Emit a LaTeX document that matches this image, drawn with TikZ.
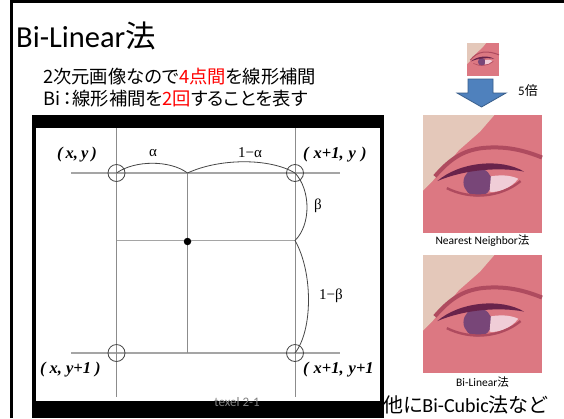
\documentclass[tikz,border=0pt]{standalone}
\usepackage{fontspec}
\setmainfont{Carlito}
\newfontfamily\jp[RawFeature=+palt]{Noto Sans CJK JP}
\newfontfamily\tms{Liberation Serif}
\definecolor{gridgray}{RGB}{140,140,140}
\definecolor{hgray}{RGB}{165,165,165}
\definecolor{arcgray}{RGB}{70,70,70}
\definecolor{arrowblue}{RGB}{79,129,189}
\definecolor{arrowedge}{RGB}{56,93,138}
\definecolor{eyepink}{RGB}{220,120,130}
\definecolor{eyelight}{RGB}{228,200,186}
\definecolor{browc}{RGB}{175,75,95}
\definecolor{lidc}{RGB}{105,35,75}
\definecolor{irisc}{RGB}{120,70,120}
\definecolor{eyewhite}{RGB}{240,205,215}
\newcommand\eyepic[5]{%
\begin{scope}[shift={(#1,#2)},x=#3pt,y=-#4pt]
\fill[eyepink] (0,0) rectangle (1,1);
\fill[eyelight] (0,0) -- (0.6,0) -- (0.48,0.14) -- (0.3,0.3) -- (0.08,0.56) -- (0,0.64) -- cycle;
\draw[browc, line width=#5] (0.1,0.52) .. controls (0.22,0.38) and (0.33,0.3) .. (0.5,0.28) .. controls (0.7,0.26) and (0.85,0.3) .. (1,0.36);
\fill[irisc] (0.46,0.57) ellipse[x radius=0.12, y radius=0.12];
\fill[eyewhite] (0.57,0.52) .. controls (0.68,0.5) and (0.76,0.52) .. (0.8,0.54) .. controls (0.74,0.62) and (0.64,0.66) .. (0.56,0.65) -- cycle;
\fill[lidc] (0.12,0.56) .. controls (0.3,0.4) and (0.65,0.36) .. (0.85,0.48) .. controls (0.65,0.44) and (0.35,0.46) .. (0.12,0.56) -- cycle;
\draw[browc, line width=0.6*#5] (0.2,0.62) .. controls (0.4,0.72) and (0.65,0.7) .. (0.82,0.56);
\end{scope}}
\tikzset{
  gline/.style={gridgray, line width=1pt},
  hline/.style={hgray, line width=1.4pt},
  arcline/.style={arcgray, line width=0.8pt},
  ring/.style={circle, draw=arcgray, line width=0.8pt, minimum size=17pt, inner sep=0pt},
  coordlab/.style={font=\tms\bfseries\itshape\fontsize{16.5}{16.5}\selectfont, inner sep=0pt},
  greeklab/.style={font=\tms\fontsize{15}{15}\selectfont, inner sep=0pt},
}
\begin{document}
\begin{tikzpicture}[x=1pt,y=-1pt]
\useasboundingbox (0,0) rectangle (564,418);
\fill[white] (0,0) rectangle (564,418);
% outer frame
\draw[line width=3pt] (11.5,418) -- (11.5,1.5) -- (564,1.5);
% title and text
\node[anchor=base west, inner sep=0pt] (title) at (16,47) {\fontsize{30.5}{30.5}\selectfont Bi-Linear{\jp 法}};
\node[anchor=base west, inner sep=0pt] (line1) at (43,83) {\jp\fontsize{18.3}{18.3}\selectfont 2次元画像なので{\color{red}4点間}を線形補間};
\node[anchor=base west, inner sep=0pt] (line2) at (43,105) {\jp\fontsize{18.3}{18.3}\selectfont Bi\,：線形補間を{\color{red}2回}することを表す};
% figure box
\fill[black] (31.7,115) rectangle (383.5,418);
\fill[white] (36,128) rectangle (380,400.5);
\begin{scope}
\clip (36,128) rectangle (380,400.5);
\coordinate (tl) at (116.5,173);
\coordinate (tr) at (295,173);
\coordinate (bl) at (116.5,353);
\coordinate (br) at (295,353);
\coordinate (tm) at (187.5,173);
\coordinate (bm) at (187.5,353);
\coordinate (ml) at (116.5,240.5);
\coordinate (mr) at (295,240.5);
\coordinate (vlt) at (116.5,128);
\coordinate (vlb) at (116.5,397);
\coordinate (vrt) at (295,128);
\coordinate (vrb) at (295,397);
\coordinate (htl) at (71,173);
\coordinate (htr) at (340,173);
\coordinate (hbl) at (71,353);
\coordinate (hbr) at (340,353);
\draw[hline] (htl) -- (htr);
\draw[hline] (hbl) -- (hbr);
\draw[hline] (ml) -- (mr);
\draw[gline] (vlt) -- (vlb);
\draw[gline] (vrt) -- (vrb);
\draw[gline] (tm) -- (bm);
\node[ring] (ctl) at (tl) {};
\node[ring] (ctr) at (tr) {};
\node[ring] (cbl) at (bl) {};
\node[ring] (cbr) at (br) {};
\node[circle, fill=black, minimum size=7.5pt, inner sep=0pt] (dot) at (187.5,241.5) {};
\draw[arcline] (tl) .. controls (135,160) and (170,160) .. (tm);
\draw[arcline] (tm) .. controls (220,158) and (270,158) .. (tr);
\draw[arcline] (tr) .. controls (311,190) and (311,225) .. (mr);
\draw[arcline] (mr) .. controls (313,272) and (313,330) .. (br);
\node[coordlab, anchor=west] (lxy) at (57,155) {(\hspace{3pt}x,\hspace{3pt}y\hspace{3pt})};
\node[coordlab, anchor=west] (lx1y) at (303,155) {(\hspace{5pt}x+1,\hspace{5pt}y\hspace{5pt})};
\node[coordlab, anchor=west] (lxy1) at (40,370) {(\hspace{4pt}x,\hspace{4pt}y+1\hspace{4pt})};
\node[coordlab, anchor=west] (lx1y1) at (303,370) {(\hspace{5pt}x+1,\hspace{5pt}y+1};
\node[greeklab] (la) at (153,153) {α};
\node[greeklab] (l1a) at (250,153) {1−α};
\node[greeklab] (lb) at (318,206) {β};
\node[greeklab] (l1b) at (331,296) {1−β};
\end{scope}
\node[text=gray, font=\fontsize{13}{13}\selectfont, anchor=base, inner sep=0pt] (texel) at (237,406) {texel 2-1};
% right column
\eyepic{467}{43}{32}{33}{1pt}
\draw[fill=arrowblue, draw=arrowedge, line width=0.8pt] (468,79) -- (493,79) -- (493,93) -- (506,93) -- (481.5,107) -- (457,93) -- (468,93) -- cycle;
\node[anchor=base west, inner sep=0pt] (five) at (518,95) {\fontsize{13}{13}\selectfont 5{\jp 倍}};
\eyepic{423}{115}{119}{118}{4pt}
\node[anchor=base, inner sep=0pt] (nnlab) at (482.5,244) {\fontsize{11.5}{11.5}\selectfont Nearest Neighbor{\jp 法}};
\eyepic{423}{255}{119}{118}{4pt}
\node[anchor=base, inner sep=0pt] (bllab) at (482.5,386) {\fontsize{11.5}{11.5}\selectfont Bi-Linear{\jp 法}};
\node[anchor=base west, inner sep=0pt] (other) at (383,412) {\fontsize{20}{20}\selectfont{\jp 他に}Bi-Cubic{\jp 法など}};
\end{tikzpicture}
\end{document}
